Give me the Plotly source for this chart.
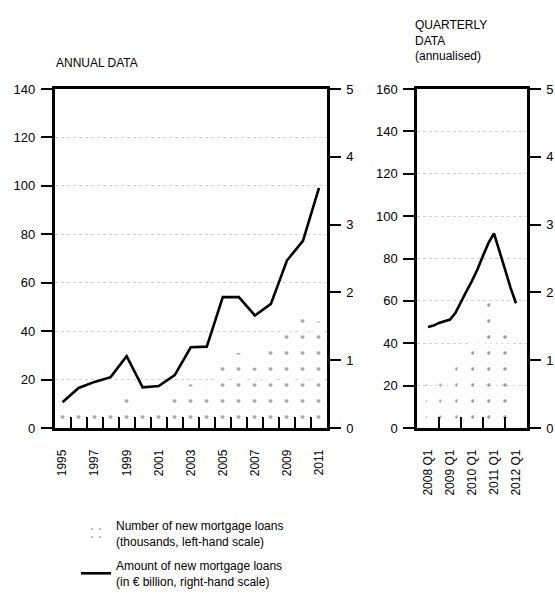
import plotly.graph_objects as go

# ---------------- data ----------------
annual_years = [1995, 1996, 1997, 1998, 1999, 2000, 2001, 2002, 2003, 2004,
                2005, 2006, 2007, 2008, 2009, 2010, 2011]
annual_number = [6, 7, 8, 9, 12, 10, 9, 12, 18, 17, 28, 31, 25, 33, 40, 46, 44]   # thousands (left)
annual_amount = [0.38, 0.59, 0.68, 0.75, 1.06, 0.60, 0.62, 0.78, 1.19, 1.20,
                 1.93, 1.93, 1.66, 1.83, 2.47, 2.76, 3.54]                        # EUR bn (right)
annual_tick_years = [1995, 1997, 1999, 2001, 2003, 2005, 2007, 2009, 2011]

quarter_index = list(range(17))
quarter_labels = ["2008 Q1", "2009 Q1", "2010 Q1", "2011 Q1", "2012 Q1"]
quarter_label_index = [0, 4, 8, 12, 16]
quarter_number = [22, 21, 22, 24, 27, 31, 34, 38, 42, 50, 56, 60, 62, 55, 48, 42, 38]
quarter_amount = [1.49, 1.51, 1.55, 1.57, 1.60, 1.70, 1.87, 2.02, 2.17, 2.34,
                  2.54, 2.73, 2.87, 2.59, 2.34, 2.07, 1.84]

W, H = 555, 609
FONT = "Liberation Sans, Arial, sans-serif"

def px_x(p):
    return p / W

def px_y(p):
    return 1 - p / H

bar_pattern = dict(shape=".", fgcolor="#9a9a9a", bgcolor="white", size=16, solidity=0.04)

fig = go.Figure()
fig.add_trace(go.Bar(x=annual_years, y=annual_number, xaxis="x", yaxis="y",
                     name="Number of new mortgage loans<br>(thousands, left-hand scale)",
                     legendgroup="number",
                     marker=dict(color="white", pattern=bar_pattern, line=dict(width=0)),
                     width=0.65))
fig.add_trace(go.Bar(x=quarter_index, y=quarter_number, xaxis="x2", yaxis="y3",
                     showlegend=False, legendgroup="number",
                     marker=dict(color="white", pattern=bar_pattern, line=dict(width=0)),
                     width=0.7))
fig.add_trace(go.Scatter(x=annual_years, y=annual_amount, xaxis="x", yaxis="y2",
                         mode="lines", line=dict(color="black", width=2.6),
                         legendgroup="amount",
                         name="Amount of new mortgage loans<br>(in € billion, right-hand scale)"))
fig.add_trace(go.Scatter(x=quarter_index, y=quarter_amount, xaxis="x2", yaxis="y4",
                         mode="lines", line=dict(color="black", width=2.6), showlegend=False,
                         legendgroup="amount"))

ydom = [px_y(428), px_y(89)]
common_y = dict(showline=True, linewidth=2.5, linecolor="black", ticks="outside",
                ticklen=11, tickwidth=2, tickcolor="black", zeroline=False, automargin=False,
                tickfont=dict(family=FONT, size=13, color="black"), ticklabelstandoff=3,
                ticklabeloverflow="allow", domain=ydom)
grid = dict(showgrid=True, gridcolor="#d0d0d0", griddash="dot", gridwidth=1)

common_x = dict(ticks="", tickangle=-90, showline=True, linewidth=2.5, linecolor="black",
                mirror=True, showgrid=False, zeroline=False, automargin=False,
                ticklabeloverflow="allow",
                tickfont=dict(family=FONT, size=12, color="black"), ticklabelstandoff=14)

fig.update_layout(
    template="none",
    width=W, height=H, margin=dict(l=0, r=0, t=0, b=0, autoexpand=False),
    paper_bgcolor="white", plot_bgcolor="white", barmode="overlay",
    font=dict(family=FONT, color="black", size=12),
    xaxis=dict(domain=[px_x(54.5), px_x(327)], range=[1994.5, 2011.5],
               tickvals=annual_tick_years, ticktext=[str(v) for v in annual_tick_years],
               anchor="y", **common_x,
               minor=dict(tickvals=[y + 0.5 for y in annual_years[:-1]], ticks="inside",
                          ticklen=11, tickwidth=2, tickcolor="black", showgrid=False)),
    yaxis=dict(range=[0, 140], dtick=20, anchor="x", **grid, **common_y),
    yaxis2=dict(range=[0, 5], dtick=1, overlaying="y", side="right", anchor="x",
                showgrid=False, **common_y),
    xaxis2=dict(domain=[px_x(417), px_x(527)], range=[-2, 18],
                tickvals=quarter_label_index, ticktext=quarter_labels,
                anchor="y3", **common_x,
                minor=dict(tickvals=[i + 2 for i in quarter_label_index[:-1]], ticks="inside",
                           ticklen=11, tickwidth=2, tickcolor="black", showgrid=False)),
    yaxis3=dict(range=[0, 160], dtick=20, anchor="x2", **grid, **common_y),
    yaxis4=dict(range=[0, 5], dtick=1, overlaying="y3", side="right", anchor="x2",
                showgrid=False, **common_y),
    legend=dict(x=px_x(76), y=px_y(511), xanchor="left", yanchor="top",
                font=dict(family=FONT, size=12, color="black"), traceorder="grouped",
                bgcolor="rgba(0,0,0,0)", borderwidth=0, tracegroupgap=6),
    showlegend=True,
    annotations=[
        dict(text="ANNUAL DATA", x=px_x(54), y=px_y(63), xref="paper", yref="paper",
             xanchor="left", yanchor="middle", showarrow=False,
             font=dict(family=FONT, size=12, color="black")),
        dict(text="QUARTERLY<br>DATA<br>(annualised)", x=px_x(413), y=px_y(16),
             xref="paper", yref="paper", xanchor="left", yanchor="top", align="left",
             showarrow=False, font=dict(family=FONT, size=12, color="black")),
    ],
)

fig.write_html("out.html", config={"displayModeBar": False},
               post_script="document.body.style.margin='0px';")
